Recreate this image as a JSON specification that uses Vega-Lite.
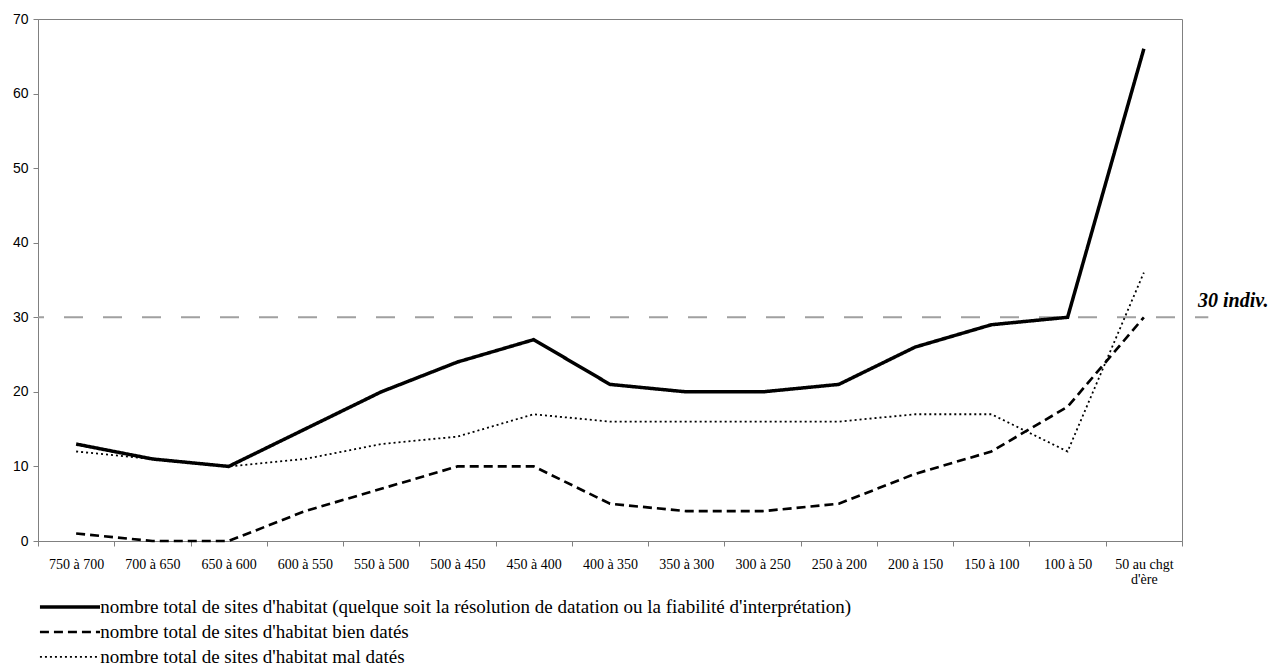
{
  "$schema": "https://vega.github.io/schema/vega-lite/v6.json",
  "width": 1144,
  "height": 522,
  "autosize": {"type": "none"},
  "padding": {"left": 38, "top": 19, "right": 89, "bottom": 126},
  "background": "white",
  "config": {
    "font": "Liberation Serif",
    "view": {"stroke": "#808080", "strokeWidth": 1},
    "axis": {"grid": false, "domainColor": "#808080", "tickColor": "#808080", "labelColor": "black"}
  },
  "datasets": {
    "series": [
      {"periode": "750 à 700", "serie": "nombre total de sites d'habitat (quelque soit la résolution de datation ou la fiabilité d'interprétation)", "n": 13},
      {"periode": "700 à 650", "serie": "nombre total de sites d'habitat (quelque soit la résolution de datation ou la fiabilité d'interprétation)", "n": 11},
      {"periode": "650 à 600", "serie": "nombre total de sites d'habitat (quelque soit la résolution de datation ou la fiabilité d'interprétation)", "n": 10},
      {"periode": "600 à 550", "serie": "nombre total de sites d'habitat (quelque soit la résolution de datation ou la fiabilité d'interprétation)", "n": 15},
      {"periode": "550 à 500", "serie": "nombre total de sites d'habitat (quelque soit la résolution de datation ou la fiabilité d'interprétation)", "n": 20},
      {"periode": "500 à 450", "serie": "nombre total de sites d'habitat (quelque soit la résolution de datation ou la fiabilité d'interprétation)", "n": 24},
      {"periode": "450 à 400", "serie": "nombre total de sites d'habitat (quelque soit la résolution de datation ou la fiabilité d'interprétation)", "n": 27},
      {"periode": "400 à 350", "serie": "nombre total de sites d'habitat (quelque soit la résolution de datation ou la fiabilité d'interprétation)", "n": 21},
      {"periode": "350 à 300", "serie": "nombre total de sites d'habitat (quelque soit la résolution de datation ou la fiabilité d'interprétation)", "n": 20},
      {"periode": "300 à 250", "serie": "nombre total de sites d'habitat (quelque soit la résolution de datation ou la fiabilité d'interprétation)", "n": 20},
      {"periode": "250 à 200", "serie": "nombre total de sites d'habitat (quelque soit la résolution de datation ou la fiabilité d'interprétation)", "n": 21},
      {"periode": "200 à 150", "serie": "nombre total de sites d'habitat (quelque soit la résolution de datation ou la fiabilité d'interprétation)", "n": 26},
      {"periode": "150 à 100", "serie": "nombre total de sites d'habitat (quelque soit la résolution de datation ou la fiabilité d'interprétation)", "n": 29},
      {"periode": "100 à 50", "serie": "nombre total de sites d'habitat (quelque soit la résolution de datation ou la fiabilité d'interprétation)", "n": 30},
      {"periode": "50 au chgt d'ère", "serie": "nombre total de sites d'habitat (quelque soit la résolution de datation ou la fiabilité d'interprétation)", "n": 66},
      {"periode": "750 à 700", "serie": "nombre total de sites d'habitat bien datés", "n": 1},
      {"periode": "700 à 650", "serie": "nombre total de sites d'habitat bien datés", "n": 0},
      {"periode": "650 à 600", "serie": "nombre total de sites d'habitat bien datés", "n": 0},
      {"periode": "600 à 550", "serie": "nombre total de sites d'habitat bien datés", "n": 4},
      {"periode": "550 à 500", "serie": "nombre total de sites d'habitat bien datés", "n": 7},
      {"periode": "500 à 450", "serie": "nombre total de sites d'habitat bien datés", "n": 10},
      {"periode": "450 à 400", "serie": "nombre total de sites d'habitat bien datés", "n": 10},
      {"periode": "400 à 350", "serie": "nombre total de sites d'habitat bien datés", "n": 5},
      {"periode": "350 à 300", "serie": "nombre total de sites d'habitat bien datés", "n": 4},
      {"periode": "300 à 250", "serie": "nombre total de sites d'habitat bien datés", "n": 4},
      {"periode": "250 à 200", "serie": "nombre total de sites d'habitat bien datés", "n": 5},
      {"periode": "200 à 150", "serie": "nombre total de sites d'habitat bien datés", "n": 9},
      {"periode": "150 à 100", "serie": "nombre total de sites d'habitat bien datés", "n": 12},
      {"periode": "100 à 50", "serie": "nombre total de sites d'habitat bien datés", "n": 18},
      {"periode": "50 au chgt d'ère", "serie": "nombre total de sites d'habitat bien datés", "n": 30},
      {"periode": "750 à 700", "serie": "nombre total de sites d'habitat mal datés", "n": 12},
      {"periode": "700 à 650", "serie": "nombre total de sites d'habitat mal datés", "n": 11},
      {"periode": "650 à 600", "serie": "nombre total de sites d'habitat mal datés", "n": 10},
      {"periode": "600 à 550", "serie": "nombre total de sites d'habitat mal datés", "n": 11},
      {"periode": "550 à 500", "serie": "nombre total de sites d'habitat mal datés", "n": 13},
      {"periode": "500 à 450", "serie": "nombre total de sites d'habitat mal datés", "n": 14},
      {"periode": "450 à 400", "serie": "nombre total de sites d'habitat mal datés", "n": 17},
      {"periode": "400 à 350", "serie": "nombre total de sites d'habitat mal datés", "n": 16},
      {"periode": "350 à 300", "serie": "nombre total de sites d'habitat mal datés", "n": 16},
      {"periode": "300 à 250", "serie": "nombre total de sites d'habitat mal datés", "n": 16},
      {"periode": "250 à 200", "serie": "nombre total de sites d'habitat mal datés", "n": 16},
      {"periode": "200 à 150", "serie": "nombre total de sites d'habitat mal datés", "n": 17},
      {"periode": "150 à 100", "serie": "nombre total de sites d'habitat mal datés", "n": 17},
      {"periode": "100 à 50", "serie": "nombre total de sites d'habitat mal datés", "n": 12},
      {"periode": "50 au chgt d'ère", "serie": "nombre total de sites d'habitat mal datés", "n": 36}
    ],
    "seuil": [
      {"debut": 0, "fin": 1.023, "texte_x": 1.014, "valeur": 30, "texte": "30 indiv."}
    ],
    "legende": [
      {"serie": "nombre total de sites d'habitat (quelque soit la résolution de datation ou la fiabilité d'interprétation)", "x0": 0.0017, "x1": 0.0542, "xt": 0.0545, "y": -8.85},
      {"serie": "nombre total de sites d'habitat bien datés", "x0": 0.0017, "x1": 0.0542, "xt": 0.0545, "y": -12.2},
      {"serie": "nombre total de sites d'habitat mal datés", "x0": 0.0017, "x1": 0.0542, "xt": 0.0545, "y": -15.55}
    ]
  },
  "layer": [
    {
      "data": {"name": "seuil"},
      "mark": {"type": "rule", "color": "#a0a0a0", "strokeWidth": 2, "strokeDash": [19, 20], "strokeDashOffset": 13, "clip": false},
      "encoding": {
        "x": {"field": "debut", "type": "quantitative", "scale": {"domain": [0, 1]}, "axis": null},
        "x2": {"field": "fin"},
        "y": {"field": "valeur", "type": "quantitative"}
      }
    },
    {
      "data": {"name": "series"},
      "mark": {"type": "line", "color": "black"},
      "encoding": {
        "x": {
          "field": "periode", "type": "nominal", "sort": null,
          "scale": {"paddingInner": 0, "paddingOuter": 0},
          "axis": {"title": null, "tickBand": "extent", "labelAngle": 0, "tickSize": 5, "labelPadding": 11,
            "labelFont": "Liberation Serif", "labelFontSize": 14, "labelBaseline": "top", "labelLineHeight": 15,
            "labelExpr": "datum.label == \"50 au chgt d'ère\" ? [\"50 au chgt\", \"d'ère\"] : datum.label"}
        },
        "y": {
          "field": "n", "type": "quantitative",
          "scale": {"domain": [0, 70]},
          "axis": {"title": null, "values": [0, 10, 20, 30, 40, 50, 60, 70], "tickSize": 5, "labelPadding": 5,
            "labelFont": "Liberation Sans Narrow, Liberation Sans, sans-serif", "labelFontSize": 14}
        },
        "strokeDash": {
          "field": "serie", "type": "nominal",
          "scale": {"domain": ["nombre total de sites d'habitat (quelque soit la résolution de datation ou la fiabilité d'interprétation)", "nombre total de sites d'habitat bien datés", "nombre total de sites d'habitat mal datés"], "range": [[1, 0], [9, 5], [2, 3]]},
          "legend": null
        },
        "strokeWidth": {
          "field": "serie", "type": "nominal",
          "scale": {"domain": ["nombre total de sites d'habitat (quelque soit la résolution de datation ou la fiabilité d'interprétation)", "nombre total de sites d'habitat bien datés", "nombre total de sites d'habitat mal datés"], "range": [3.5, 1.8, 1.5]},
          "legend": null
        }
      }
    },
    {
      "data": {"name": "legende"},
      "mark": {"type": "rule", "color": "black", "clip": false},
      "encoding": {
        "x": {"field": "x0", "type": "quantitative", "scale": {"domain": [0, 1]}, "axis": null},
        "x2": {"field": "x1"},
        "y": {"field": "y", "type": "quantitative"},
        "strokeDash": {"field": "serie", "type": "nominal", "legend": null},
        "strokeWidth": {"field": "serie", "type": "nominal", "legend": null}
      }
    },
    {
      "data": {"name": "legende"},
      "mark": {"type": "text", "align": "left", "baseline": "middle", "font": "Liberation Serif", "fontSize": 19, "color": "black", "clip": false},
      "encoding": {
        "x": {"field": "xt", "type": "quantitative", "scale": {"domain": [0, 1]}, "axis": null},
        "y": {"field": "y", "type": "quantitative"},
        "text": {"field": "serie"}
      }
    },
    {
      "data": {"name": "seuil"},
      "mark": {"type": "text", "align": "left", "baseline": "alphabetic", "dy": -10, "font": "Liberation Serif", "fontSize": 20, "fontStyle": "italic", "fontWeight": "bold", "color": "black", "clip": false},
      "encoding": {
        "x": {"field": "texte_x", "type": "quantitative", "scale": {"domain": [0, 1]}, "axis": null},
        "y": {"field": "valeur", "type": "quantitative"},
        "text": {"field": "texte"}
      }
    }
  ],
  "resolve": {"scale": {"x": "independent"}}
}
